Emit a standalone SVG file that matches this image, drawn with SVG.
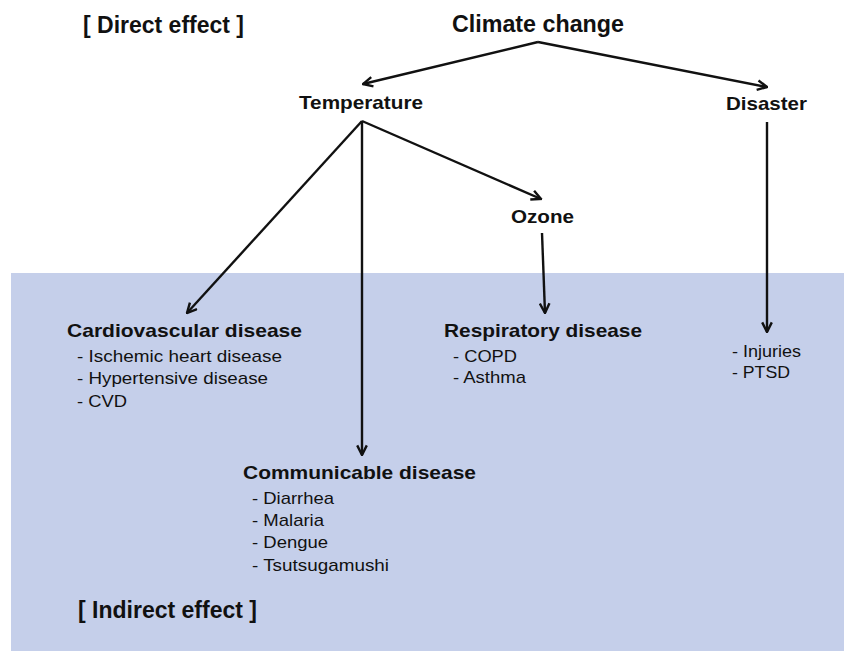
<svg xmlns="http://www.w3.org/2000/svg" width="844" height="651" viewBox="0 0 844 651">
<style>
text{font-family:"Liberation Sans",Arial,sans-serif;fill:#111}
.h{font-weight:bold;font-size:24px}
.n{font-weight:bold;font-size:19px}
.s{font-size:17px}
.c{fill:none;stroke:#111;stroke-width:2.4;marker-end:url(#ah)}
</style>
<defs>
<marker id="ah" viewBox="0 0 10 10" refX="9" refY="5" markerWidth="12" markerHeight="12" markerUnits="userSpaceOnUse" orient="auto">
<path d="M1,1 L9,5 L1,9" fill="none" stroke="#111" stroke-width="2"/>
</marker>
</defs>
<rect x="0" y="0" width="844" height="651" fill="#fff"/>
<rect id="indirect-zone" x="11" y="273" width="833" height="378" fill="#c5cfea"/>
<g id="label-direct"><text class="h" x="83" y="33" textLength="161" lengthAdjust="spacingAndGlyphs">[ Direct effect ]</text></g>
<g id="label-indirect"><text class="h" x="78" y="618" textLength="179" lengthAdjust="spacingAndGlyphs">[ Indirect effect ]</text></g>
<g id="connectors">
<line class="c" x1="538" y1="42" x2="363" y2="84"/>
<line class="c" x1="538" y1="42" x2="767" y2="87"/>
<line class="c" x1="362" y1="121" x2="187" y2="313"/>
<line class="c" x1="362" y1="121" x2="362" y2="455"/>
<line class="c" x1="362" y1="121" x2="541" y2="199"/>
<line class="c" x1="542" y1="233" x2="545" y2="313"/>
<line class="c" x1="767" y1="122" x2="767" y2="332"/>
</g>
<g id="climate-change"><text class="h" x="452" y="32" textLength="172" lengthAdjust="spacingAndGlyphs">Climate change</text></g>
<g id="temperature"><text class="n" x="299" y="109" textLength="124" lengthAdjust="spacingAndGlyphs">Temperature</text></g>
<g id="disaster"><text class="n" x="726" y="110" textLength="81" lengthAdjust="spacingAndGlyphs">Disaster</text></g>
<g id="ozone"><text class="n" x="511" y="223" textLength="63" lengthAdjust="spacingAndGlyphs">Ozone</text></g>
<g id="cardiovascular">
<text class="n" x="67" y="337" textLength="235" lengthAdjust="spacingAndGlyphs">Cardiovascular disease</text>
<text class="s" x="77" y="362" textLength="205" lengthAdjust="spacingAndGlyphs">- Ischemic heart disease</text>
<text class="s" x="77" y="384" textLength="191" lengthAdjust="spacingAndGlyphs">- Hypertensive disease</text>
<text class="s" x="77" y="407" textLength="50" lengthAdjust="spacingAndGlyphs">- CVD</text>
</g>
<g id="respiratory">
<text class="n" x="444" y="337" textLength="198" lengthAdjust="spacingAndGlyphs">Respiratory disease</text>
<text class="s" x="453" y="362" textLength="64" lengthAdjust="spacingAndGlyphs">- COPD</text>
<text class="s" x="453" y="383" textLength="73" lengthAdjust="spacingAndGlyphs">- Asthma</text>
</g>
<g id="disaster-effects">
<text class="s" x="732" y="357" textLength="69" lengthAdjust="spacingAndGlyphs">- Injuries</text>
<text class="s" x="732" y="378" textLength="58" lengthAdjust="spacingAndGlyphs">- PTSD</text>
</g>
<g id="communicable">
<text class="n" x="243" y="479" textLength="233" lengthAdjust="spacingAndGlyphs">Communicable disease</text>
<text class="s" x="252" y="504" textLength="82" lengthAdjust="spacingAndGlyphs">- Diarrhea</text>
<text class="s" x="252" y="526" textLength="72" lengthAdjust="spacingAndGlyphs">- Malaria</text>
<text class="s" x="252" y="548" textLength="76" lengthAdjust="spacingAndGlyphs">- Dengue</text>
<text class="s" x="252" y="571" textLength="137" lengthAdjust="spacingAndGlyphs">- Tsutsugamushi</text>
</g>
</svg>
